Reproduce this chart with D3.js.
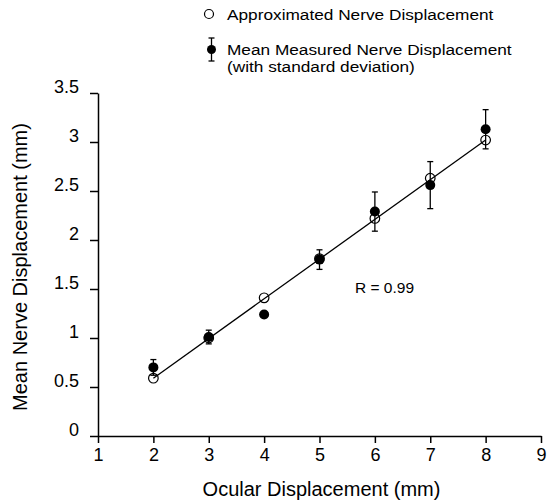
<!DOCTYPE html>
<html>
<head>
<style>
body{ margin:0; background:#fff; }
svg text{ font-family: "Liberation Sans", Arial, Helvetica, sans-serif; fill:#000; }
.axis path, .axis line{ stroke:#000; stroke-width:1.5; }
</style>
<script src="https://d3js.org/d3.v7.min.js"></script>
</head>
<body>
<script>
// ocular displacement (mm)
var ocular = [2, 3, 4, 5, 6, 7, 8]
// approximated nerve displacement (open circles)
var approx = [0.59, 1.0, 1.41, 1.81, 2.22, 2.63, 3.02]
// mean measured nerve displacement (filled) and its standard deviation
var measured = [0.70, 1.01, 1.24, 1.80, 2.29, 2.56, 3.13]
var sd = [0.08, 0.07, 0.03, 0.10, 0.20, 0.24, 0.20]
// regression line ends
var fitX = [2, 8]
var fitY = [0.59, 3.02]
var xTicks = [1, 2, 3, 4, 5, 6, 7, 8, 9]
var yTicks = [0, 0.5, 1, 1.5, 2, 2.5, 3, 3.5]

var w = 547
var h = 502

var svg = d3.select("body")
            .append("svg")
            .attr("width", w)
            .attr("height", h)

var xScale = d3.scaleLinear()
               .domain([1, 9])
               .range([98, 541])

var yScale = d3.scaleLinear()
               .domain([0, 3.5])
               .range([436, 93])

var xAxis = d3.axisBottom(xScale)
              .tickValues(xTicks)
              .tickFormat(d3.format("d"))
              .tickSize(7)
              .tickSizeOuter(0)
              .tickPadding(5)

var yAxis = d3.axisLeft(yScale)
              .tickValues(yTicks)
              .tickFormat(function(d){ return String(d) })
              .tickSize(8)
              .tickSizeOuter(0)
              .tickPadding(11)

var gx = svg.append("g")
   .attr("class", "axis")
   .attr("transform", "translate(0," + yScale(0) + ")")
   .call(xAxis)
gx.selectAll("text")
  .attr("font-size", "18px")
  .attr("font-family", null)

var gy = svg.append("g")
   .attr("class", "axis")
   .attr("transform", "translate(" + xScale(1) + ",0)")
   .call(yAxis)
gy.selectAll("text")
  .attr("font-size", "18px")
  .attr("font-family", null)
  .attr("dy", "-0.05em")

// axis titles
svg.append("text")
   .attr("x", (xScale(1) + xScale(9)) / 2 + 2)
   .attr("y", 496)
   .attr("text-anchor", "middle")
   .attr("font-size", "20px")
   .text("Ocular Displacement (mm)")

svg.append("text")
   .attr("transform", "translate(27," + 267 + ") rotate(-90)")
   .attr("text-anchor", "middle")
   .attr("font-size", "20px")
   .text("Mean Nerve Displacement (mm)")

// regression line
svg.append("line")
   .attr("x1", xScale(fitX[0]))
   .attr("y1", yScale(fitY[0]))
   .attr("x2", xScale(fitX[1]))
   .attr("y2", yScale(fitY[1]))
   .attr("stroke", "#000")
   .attr("stroke-width", 1.3)

// error bars
var err = svg.append("g")
             .attr("stroke", "#000")
             .attr("stroke-width", 1.3)
ocular.forEach(function(x, i){
    var cx = xScale(x)
    var top = yScale(measured[i] + sd[i])
    var bot = yScale(measured[i] - sd[i])
    err.append("line").attr("x1", cx).attr("x2", cx).attr("y1", top).attr("y2", bot)
    err.append("line").attr("x1", cx - 3).attr("x2", cx + 3).attr("y1", top).attr("y2", top)
    err.append("line").attr("x1", cx - 3).attr("x2", cx + 3).attr("y1", bot).attr("y2", bot)
})

// approximated points
svg.selectAll("circle.open")
   .data(ocular)
   .enter()
   .append("circle")
   .attr("class", "open")
   .attr("cx", function(d){ return xScale(d) })
   .attr("cy", function(d, i){ return yScale(approx[i]) })
   .attr("r", 4.8)
   .attr("fill", "none")
   .attr("stroke", "#000")
   .attr("stroke-width", 1.2)

// measured points
svg.selectAll("circle.filled")
   .data(ocular)
   .enter()
   .append("circle")
   .attr("class", "filled")
   .attr("cx", function(d){ return xScale(d) })
   .attr("cy", function(d, i){ return yScale(measured[i]) })
   .attr("r", 5)
   .attr("fill", "#000")

svg.append("text")
   .attr("x", 355)
   .attr("y", 293)
   .attr("font-size", "15.5px")
   .text("R = 0.99")

// legend
var legend = svg.append("g")
legend.append("circle")
      .attr("cx", 209).attr("cy", 14).attr("r", 4.5)
      .attr("fill", "none").attr("stroke", "#000").attr("stroke-width", 1.2)

legend.append("line")
      .attr("x1", 211.5).attr("x2", 211.5).attr("y1", 38).attr("y2", 61)
      .attr("stroke", "#000").attr("stroke-width", 1.3)
legend.append("line")
      .attr("x1", 208.5).attr("x2", 214.5).attr("y1", 38).attr("y2", 38)
      .attr("stroke", "#000").attr("stroke-width", 1.3)
legend.append("line")
      .attr("x1", 208.5).attr("x2", 214.5).attr("y1", 61).attr("y2", 61)
      .attr("stroke", "#000").attr("stroke-width", 1.3)
legend.append("circle")
      .attr("cx", 211.5).attr("cy", 49.5).attr("r", 4.5)
      .attr("fill", "#000")

// legend labels are a little wide in the original
var legendText = legend.append("g")
      .attr("transform", "translate(227,0) scale(1.15,1)")
      .attr("font-size", "15px")
legendText.append("text").attr("x", 0).attr("y", 20).text("Approximated Nerve Displacement")
legendText.append("text").attr("x", 0).attr("y", 55).text("Mean Measured Nerve Displacement")
legendText.append("text").attr("x", 0).attr("y", 72.5).text("(with standard deviation)")
</script>
</body>
</html>
